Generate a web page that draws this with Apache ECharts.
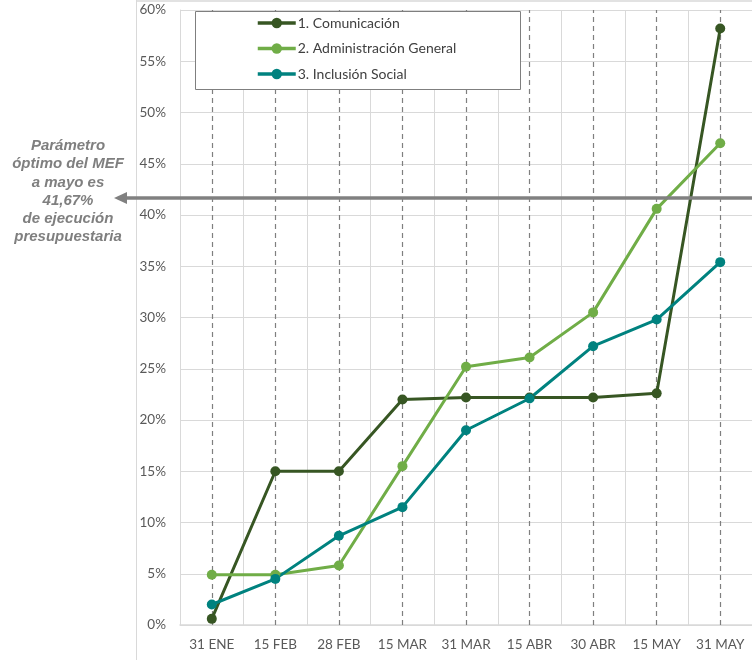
<!DOCTYPE html>
<html>
<head>
<meta charset="utf-8">
<script src="https://cdn.jsdelivr.net/npm/echarts@6/dist/echarts.min.js"></script>
<style>
html,body{margin:0;padding:0;background:#fff;}
#main{width:752px;height:660px;}
</style>
</head>
<body>
<div id="main"></div>
<script>
const categories = ['31 ENE','15 FEB','28 FEB','15 MAR','31 MAR','15 ABR','30 ABR','15 MAY','31 MAY'];
const comunicacion = [0.6, 15.0, 15.0, 22.0, 22.2, 22.2, 22.2, 22.6, 58.2];
const administracion = [4.9, 4.9, 5.8, 15.5, 25.2, 26.1, 30.5, 40.6, 47.0];
const inclusion = [2.0, 4.5, 8.7, 11.5, 19.0, 22.1, 27.2, 29.8, 35.4];
const seriesNames = ['1. Comunicación','2. Administración General','3. Inclusión Social'];
const yTicks = [0,5,10,15,20,25,30,35,40,45,50,55,60];
const parametroMEF = 41.67;
const annotationLines = ['Parámetro','óptimo del MEF','a mayo es','41,67%','de ejecución','presupuestaria'];

const colors = ['#375623','#70AD47','#00827F'];
const chart = echarts.init(document.getElementById('main'));
const labelFont = 'Lato, "Open Sans", sans-serif';

function lineSeries(name, data, color, extra) {
  return Object.assign({
    name: name,
    type: 'line',
    data: data,
    symbol: 'circle',
    symbolSize: 10,
    lineStyle: {width: 3, color: color},
    itemStyle: {color: color},
    emphasis: {disabled: true},
    z: 3
  }, extra || {});
}

const option = {
  animation: false,
  backgroundColor: '#fff',
  grid: {left: 180, top: 10, width: 574, height: 615, containLabel: false},
  legend: {
    left: 256, top: 16,
    orient: 'vertical',
    padding: 0,
    itemGap: 11.5,
    itemWidth: 38,
    itemHeight: 13,
    lineStyle: {width: 3.5},
    textStyle: {color: '#404040', fontSize: 14, lineHeight: 14, fontFamily: labelFont, padding: [0, 0, 0, -3]},
    data: seriesNames,
    z: 10
  },
  xAxis: {
    type: 'category',
    data: categories,
    boundaryGap: true,
    axisLine: {lineStyle: {color: '#d9d9d9', width: 1.5}},
    axisTick: {show: false},
    axisLabel: {interval: 0, color: '#595959', fontSize: 13.5, margin: 13, fontFamily: labelFont},
    splitLine: {show: true, interval: 0, lineStyle: {color: '#d9d9d9', width: 1}}
  },
  yAxis: {
    type: 'value',
    min: 0, max: 60, interval: 5,
    axisLine: {show: true, lineStyle: {color: '#d9d9d9', width: 1}},
    axisTick: {show: false},
    axisLabel: {color: '#595959', fontSize: 13.5, margin: 14, formatter: '{value}%', fontFamily: labelFont},
    splitLine: {lineStyle: {color: '#d9d9d9', width: 1}}
  },
  series: [
    lineSeries(seriesNames[0], comunicacion, colors[0], {
      markLine: {
        silent: true, symbol: 'none', label: {show: false},
        lineStyle: {color: '#7f7f7f', type: [5, 4], width: 1.2},
        data: categories.map(c => ({xAxis: c})),
        z: 1
      }
    }),
    lineSeries(seriesNames[1], administracion, colors[1]),
    lineSeries(seriesNames[2], inclusion, colors[2])
  ]
};
chart.setOption(option);

const yArrow = chart.convertToPixel({yAxisIndex: 0}, parametroMEF);
const graphics = [
  {type: 'line', shape: {x1: 136.5, y1: 0, x2: 136.5, y2: 660}, style: {stroke: '#d9d9d9', lineWidth: 1}, z: 0},
  {type: 'line', shape: {x1: 136, y1: 1, x2: 752, y2: 1}, style: {stroke: '#d9d9d9', lineWidth: 1.5}, z: 0},
  {type: 'rect', shape: {x: 195.5, y: 11.5, width: 325, height: 78}, style: {fill: '#fff', stroke: '#7f7f7f', lineWidth: 1}, z: 5},
  {type: 'line', shape: {x1: 124, y1: yArrow, x2: 752, y2: yArrow}, style: {stroke: '#808080', lineWidth: 3.5}, z: 20},
  {type: 'polygon', shape: {points: [[114, yArrow], [127, yArrow - 6], [127, yArrow + 6]]}, style: {fill: '#808080'}, z: 20},
  {
    type: 'text', x: 68, y: 137,
    style: {
      text: annotationLines.join('\n'),
      align: 'center',
      fill: '#7f7f7f',
      font: 'italic bold 15px "Liberation Sans", Arial, sans-serif',
      lineHeight: 18.2
    },
    z: 20
  }
];
chart.setOption({graphic: graphics});
</script>
</body>
</html>
